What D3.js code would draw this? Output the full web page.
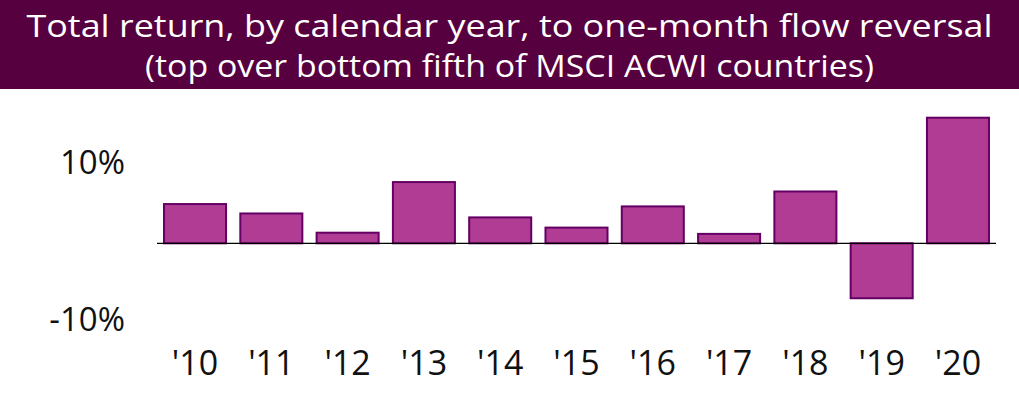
<!DOCTYPE html>
<html>
<head>
<meta charset="utf-8">
<script src="https://cdn.jsdelivr.net/npm/d3@7"></script>
<style>
  body { margin: 0; background: #fff; }
  svg { display: block; font-family: "Open Sans", "DejaVu Sans", sans-serif; }
</style>
</head>
<body>
<div id="wrapper"></div>
<script>
const years = ["'10", "'11", "'12", "'13", "'14", "'15", "'16", "'17", "'18", "'19", "'20"];
const returns = [5.0, 3.8, 1.35, 7.8, 3.3, 2.0, 4.7, 1.2, 6.6, -7.0, 16.0];
const yTicks = [-10, 10];
const titleLines = [
    "Total return, by calendar year, to one-month flow reversal",
    "(top over bottom fifth of MSCI ACWI countries)"
];

const dimension = { width: 1019, height: 393 };

const wrapper = d3.select("#wrapper")
    .append("svg")
    .attr("width", dimension.width)
    .attr("height", dimension.height);

// title band
wrapper.append("rect")
    .attr("x", 0).attr("y", 0)
    .attr("width", dimension.width).attr("height", 89)
    .attr("fill", "#560040");

wrapper.append("g")
    .selectAll("text")
    .data(titleLines)
    .enter()
    .append("text")
    .attr("x", dimension.width / 2)
    .attr("y", (d, i) => 37 + i * 40)
    .attr("text-anchor", "middle")
    .attr("fill", "#fff")
    .style("font-size", "31px")
    .attr("textLength", (d, i) => i === 0 ? 966 : 729)
    .attr("lengthAdjust", "spacingAndGlyphs")
    .text(d => d);

const x = d3.scaleBand()
    .domain(years)
    .range([157, 996])
    .paddingInner(0.187)
    .paddingOuter(0.092);

const y = d3.scaleLinear()
    .domain([-10, 10])
    .range([321.8, 164.8]);

const bars = wrapper.append("g");
bars.selectAll("rect")
    .data(returns)
    .enter()
    .append("rect")
    .attr("x", (d, i) => x(years[i]))
    .attr("width", x.bandwidth())
    .attr("y", d => y(Math.max(0, d)))
    .attr("height", d => Math.abs(y(d) - y(0)))
    .attr("fill", "#b03c94")
    .attr("stroke", "#640064")
    .attr("stroke-width", 2);

// zero line
wrapper.append("line")
    .attr("x1", 157).attr("x2", 996)
    .attr("y1", y(0)).attr("y2", y(0))
    .attr("stroke", "#000")
    .attr("stroke-width", 1.2);

// y labels
wrapper.append("g")
    .selectAll("text")
    .data(yTicks)
    .enter()
    .append("text")
    .attr("x", 125)
    .attr("y", d => y(d) + 9)
    .attr("text-anchor", "end")
    .style("font-size", "33px")
    .attr("fill", "#111")
    .text(d => d + "%");

// x labels
wrapper.append("g")
    .selectAll("text")
    .data(years)
    .enter()
    .append("text")
    .attr("x", d => x(d) + x.bandwidth() / 2)
    .attr("y", 375)
    .attr("text-anchor", "middle")
    .style("font-size", "34px")
    .attr("fill", "#111")
    .text(d => d);
</script>
</body>
</html>
